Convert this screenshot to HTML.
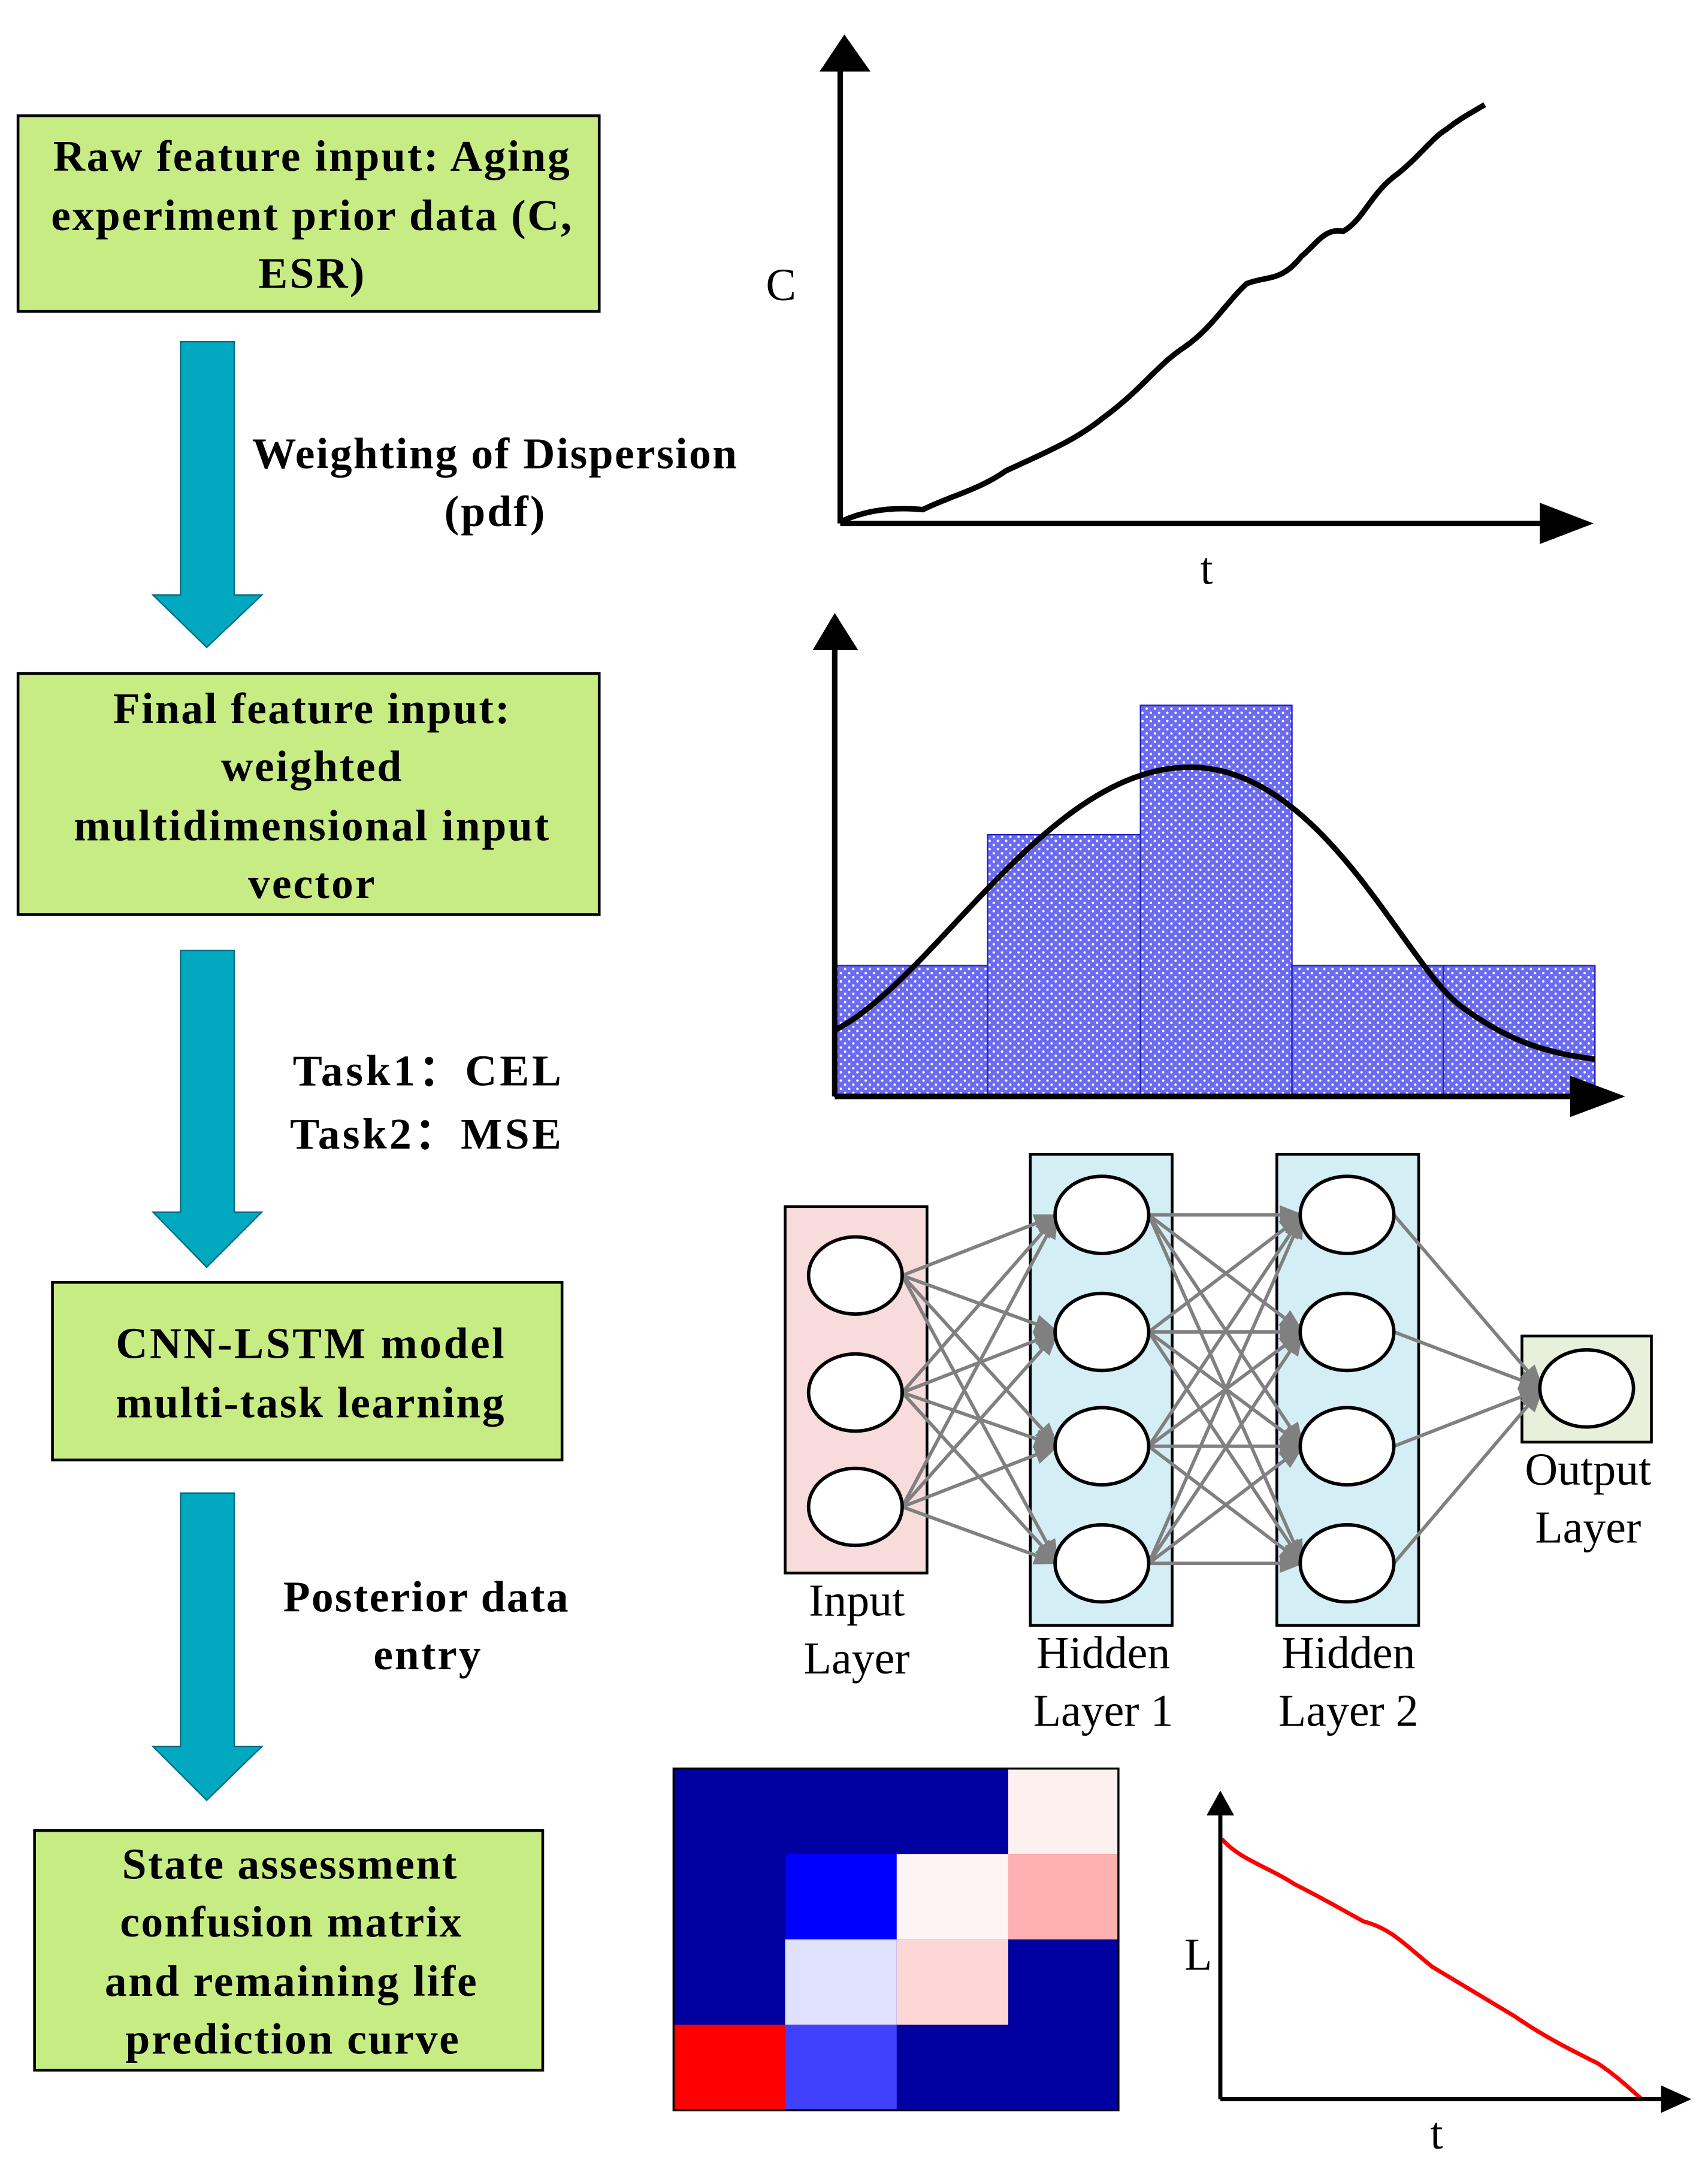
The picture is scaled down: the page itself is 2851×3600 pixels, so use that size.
<!DOCTYPE html>
<html><head><meta charset="utf-8"><style>html,body{margin:0;padding:0;background:#fff}svg{display:block}</style></head>
<body>
<svg width="2851" height="3600" viewBox="0 0 1240 1566" xmlns="http://www.w3.org/2000/svg" font-family="Liberation Serif, serif">
<defs>
<pattern id="dots" width="6" height="6" patternUnits="userSpaceOnUse">
<rect width="6" height="6" fill="#6b6bf2"/><circle cx="1.5" cy="1.5" r="0.9" fill="#fff"/><circle cx="4.5" cy="4.5" r="0.9" fill="#fff"/>
</pattern>
<marker id="ah" markerWidth="18" markerHeight="14" refX="17" refY="7" orient="auto" markerUnits="userSpaceOnUse" viewBox="0 0 18 14"><path d="M0,0 L18,7 L0,14z" fill="#808080"/></marker>
</defs>
<rect width="1240" height="1566" fill="#fff"/>
<g stroke="#000" stroke-width="2" fill="#c8ec84">
<rect x="13" y="84" width="422" height="142"/>
<rect x="13" y="489" width="422" height="175"/>
<rect x="38" y="931" width="370" height="129"/>
<rect x="25" y="1329" width="369" height="174"/>
</g>
<g fill="#00a8c0" stroke="#006a80" stroke-width="1">
<path d="M131,248 H170 V432 H190 L150,470 L111,432 H131 Z"/>
<path d="M131,690 H170 V880 H190 L150,920 L111,880 H131 Z"/>
<path d="M131,1084 H170 V1268 H190 L150,1307 L111,1268 H131 Z"/>
</g>
<g font-weight="bold" font-size="32" text-anchor="middle" fill="#000" lengthAdjust="spacing">
<text x="226" y="124" textLength="375">Raw feature input: Aging</text>
<text x="226" y="167" textLength="378">experiment prior data (C,</text>
<text x="226" y="209" textLength="77">ESR)</text>
<text x="226" y="525" textLength="288">Final feature input:</text>
<text x="226" y="567" textLength="131">weighted</text>
<text x="226" y="610" textLength="345">multidimensional input</text>
<text x="226" y="652" textLength="92">vector</text>
<text x="225" y="986" textLength="282">CNN-LSTM model</text>
<text x="225" y="1029" textLength="282">multi-task learning</text>
<text x="210" y="1364" textLength="243">State assessment</text>
<text x="211" y="1406" textLength="248">confusion matrix</text>
<text x="211" y="1449" textLength="270">and remaining life</text>
<text x="212" y="1491" textLength="242">prediction curve</text>
<text x="359" y="340" textLength="352">Weighting of Dispersion</text>
<text x="359" y="382" textLength="73">(pdf)</text>
<text x="310" y="788" textLength="195">Task1：CEL</text>
<text x="309" y="834" textLength="197">Task2：MSE</text>
<text x="309" y="1170" textLength="207">Posterior data</text>
<text x="310" y="1212" textLength="78">entry</text>
</g>
<g stroke="#000" stroke-width="4" fill="none">
<line x1="610" y1="380" x2="610" y2="50"/><line x1="610" y1="380" x2="1120" y2="380"/>
<path d="M612,378 C630,370 650,368 670,370 C690,360 710,356 730,342 C760,328 780,320 800,304 C830,282 840,265 860,252 C880,238 890,220 905,206 C920,200 930,205 945,186 C955,178 962,165 975,168 C990,160 995,140 1015,126 C1030,114 1040,100 1050,94 C1060,86 1068,82 1078,76"/>
</g>
<path d="M595,52 L613,25 L632,52Z M1118,365 L1157,380 L1118,395Z" fill="#000"/>
<text x="567" y="218" font-size="33" text-anchor="middle">C</text>
<text x="876" y="424" font-size="33" text-anchor="middle">t</text>
<g fill="url(#dots)" stroke="#2020c0" stroke-width="1">
<rect x="606" y="701" width="111" height="95"/>
<rect x="717" y="606" width="111" height="190"/>
<rect x="828" y="512" width="110" height="284"/>
<rect x="938" y="701" width="110" height="95"/>
<rect x="1048" y="701" width="110" height="95"/>
</g>
<path d="M606,748 C680,710 760,557 864,557 C960,557 1020,700 1060,730 C1100,760 1130,765 1158,769" stroke="#000" stroke-width="4" fill="none"/>
<g stroke="#000" stroke-width="4"><line x1="606" y1="796" x2="606" y2="470"/><line x1="606" y1="796" x2="1142" y2="796"/></g>
<path d="M590,472 L606,445 L623,472Z M1140,781 L1180,796 L1140,811Z" fill="#000"/>
<rect x="570" y="876" width="103" height="266" fill="#f8dcdc" stroke="#000" stroke-width="2"/>
<rect x="748" y="838" width="103" height="342" fill="#d4eef6" stroke="#000" stroke-width="2"/>
<rect x="927" y="838" width="103" height="342" fill="#d4eef6" stroke="#000" stroke-width="2"/>
<rect x="1105" y="970" width="94" height="77" fill="#e8f0dc" stroke="#000" stroke-width="2"/>
<g stroke="#808080" stroke-width="2.5" marker-end="url(#ah)">
<line x1="655" y1="926" x2="768" y2="882"/><line x1="655" y1="926" x2="768" y2="967"/><line x1="655" y1="926" x2="768" y2="1050"/><line x1="655" y1="926" x2="768" y2="1135"/>
<line x1="655" y1="1011" x2="768" y2="882"/><line x1="655" y1="1011" x2="768" y2="967"/><line x1="655" y1="1011" x2="768" y2="1050"/><line x1="655" y1="1011" x2="768" y2="1135"/>
<line x1="655" y1="1094" x2="768" y2="882"/><line x1="655" y1="1094" x2="768" y2="967"/><line x1="655" y1="1094" x2="768" y2="1050"/><line x1="655" y1="1094" x2="768" y2="1135"/>
<line x1="834" y1="882" x2="946" y2="882"/><line x1="834" y1="882" x2="946" y2="967"/><line x1="834" y1="882" x2="946" y2="1050"/><line x1="834" y1="882" x2="946" y2="1135"/>
<line x1="834" y1="967" x2="946" y2="882"/><line x1="834" y1="967" x2="946" y2="967"/><line x1="834" y1="967" x2="946" y2="1050"/><line x1="834" y1="967" x2="946" y2="1135"/>
<line x1="834" y1="1050" x2="946" y2="882"/><line x1="834" y1="1050" x2="946" y2="967"/><line x1="834" y1="1050" x2="946" y2="1050"/><line x1="834" y1="1050" x2="946" y2="1135"/>
<line x1="834" y1="1135" x2="946" y2="882"/><line x1="834" y1="1135" x2="946" y2="967"/><line x1="834" y1="1135" x2="946" y2="1050"/><line x1="834" y1="1135" x2="946" y2="1135"/>
<line x1="1012" y1="882" x2="1120" y2="1008"/><line x1="1012" y1="967" x2="1120" y2="1008"/><line x1="1012" y1="1050" x2="1120" y2="1008"/><line x1="1012" y1="1135" x2="1120" y2="1008"/>
</g>
<g fill="#fff" stroke="#000" stroke-width="2.5">
<ellipse cx="621" cy="926" rx="34" ry="28"/><ellipse cx="621" cy="1011" rx="34" ry="28"/><ellipse cx="621" cy="1094" rx="34" ry="28"/>
<ellipse cx="800" cy="882" rx="34" ry="28"/><ellipse cx="800" cy="967" rx="34" ry="28"/><ellipse cx="800" cy="1050" rx="34" ry="28"/><ellipse cx="800" cy="1135" rx="34" ry="28"/>
<ellipse cx="978" cy="882" rx="34" ry="28"/><ellipse cx="978" cy="967" rx="34" ry="28"/><ellipse cx="978" cy="1050" rx="34" ry="28"/><ellipse cx="978" cy="1135" rx="34" ry="28"/>
<ellipse cx="1152" cy="1008" rx="34" ry="28"/>
</g>
<g font-size="33" text-anchor="middle">
<text x="622" y="1173">Input</text><text x="622" y="1215">Layer</text>
<text x="801" y="1211">Hidden</text><text x="801" y="1253">Layer 1</text>
<text x="979" y="1211">Hidden</text><text x="979" y="1253">Layer 2</text>
<text x="1153" y="1078">Output</text><text x="1153" y="1120">Layer</text>
</g>
<g>
<rect x="489" y="1284" width="323" height="248" fill="#0000a0"/>
<rect x="732" y="1284" width="80" height="62" fill="#fff0f0"/>
<rect x="570" y="1346" width="81" height="62" fill="#0000ff"/>
<rect x="651" y="1346" width="81" height="62" fill="#fff4f4"/>
<rect x="732" y="1346" width="80" height="62" fill="#ffb0b0"/>
<rect x="570" y="1408" width="81" height="62" fill="#e0e0ff"/>
<rect x="651" y="1408" width="81" height="62" fill="#ffd6d6"/>
<rect x="489" y="1470" width="81" height="62" fill="#ff0000"/>
<rect x="570" y="1470" width="81" height="62" fill="#4040ff"/>
<rect x="489" y="1284" width="323" height="248" fill="none" stroke="#000" stroke-width="1.5"/>
</g>
<path d="M887,1335 C900,1350 920,1355 940,1368 C960,1378 970,1384 990,1395 C1010,1400 1020,1412 1040,1428 C1060,1440 1080,1452 1100,1464 C1120,1478 1140,1488 1160,1498 C1175,1508 1185,1518 1192,1524" stroke="#ff0000" stroke-width="3" fill="none"/>
<g stroke="#000" stroke-width="3"><line x1="886" y1="1524" x2="886" y2="1318"/><line x1="886" y1="1524" x2="1208" y2="1524"/></g>
<path d="M876,1318 L886,1300 L896,1318Z M1206,1514 L1228,1524 L1206,1534Z" fill="#000"/>
<text x="870" y="1430" font-size="33" text-anchor="middle">L</text>
<text x="1043" y="1560" font-size="33" text-anchor="middle">t</text>
</svg>
</body></html>
